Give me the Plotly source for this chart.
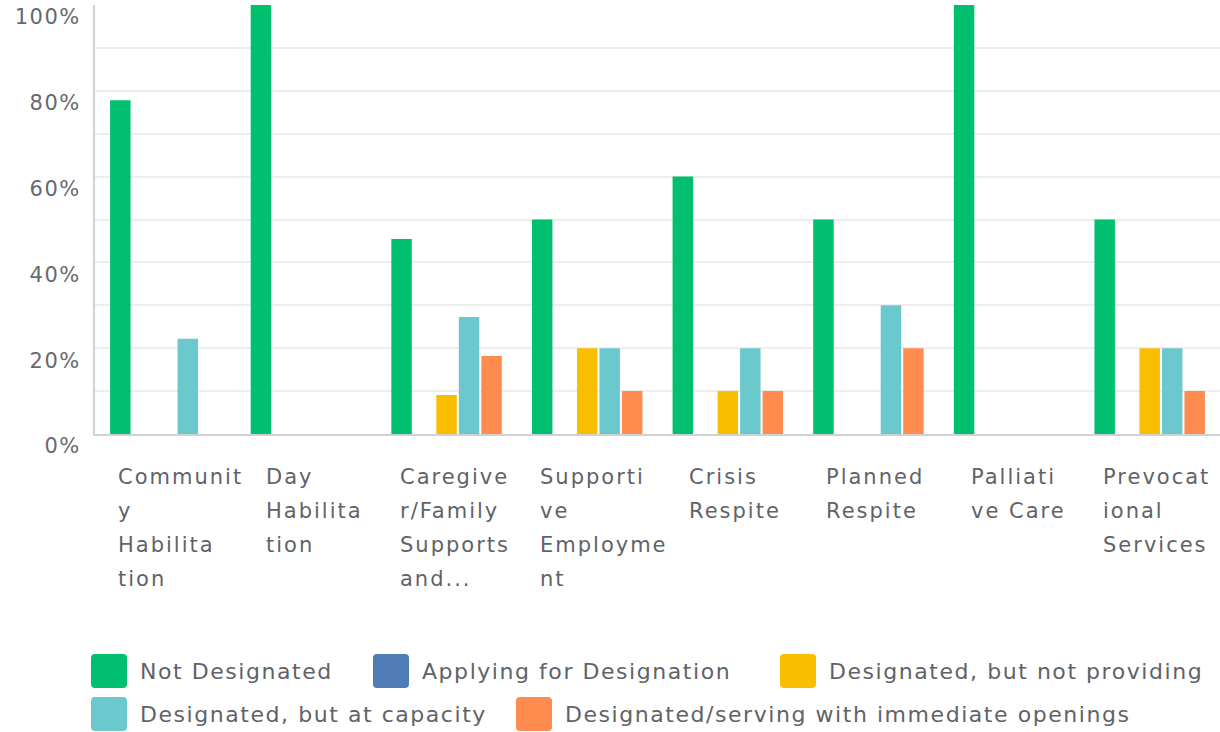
import plotly.graph_objects as go

# ---------------- data ----------------
categories = ["Community Habilitation", "Day Habilitation", "Caregiver/Family Supports and...",
              "Supportive Employment", "Crisis Respite", "Planned Respite",
              "Palliative Care", "Prevocational Services"]
category_lines = [["Communit", "y", "Habilita", "tion"],
                  ["Day", "Habilita", "tion"],
                  ["Caregive", "r/Family", "Supports", "and..."],
                  ["Supporti", "ve", "Employme", "nt"],
                  ["Crisis", "Respite"],
                  ["Planned", "Respite"],
                  ["Palliati", "ve Care"],
                  ["Prevocat", "ional", "Services"]]
series_names = ["Not Designated", "Applying for Designation", "Designated, but not providing",
                "Designated, but at capacity", "Designated/serving with immediate openings"]
not_designated = [77.78, 100, 45.45, 50, 60, 50, 100, 50]
applying = [0, 0, 0, 0, 0, 0, 0, 0]
not_providing = [0, 0, 9.09, 20, 10, 0, 0, 20]
at_capacity = [22.22, 0, 27.27, 20, 20, 30, 0, 20]
immediate_openings = [0, 0, 18.18, 10, 10, 20, 0, 10]
y_tick_vals = [0, 20, 40, 60, 80, 100]
y_tick_text = ["0%", "20%", "40%", "60%", "80%", "100%"]

# ---------------- style ----------------
colors = ["#00BF6F", "#507CB6", "#F9BE00", "#6BC8CD", "#FF8B4F"]
FONT = "DejaVu Sans"
TXT = "#5f6367"
W, H = 1220, 732
ML, MR, MT, MB = 95, 0, 5, 298
PW, PH = W - ML - MR, H - MT - MB
label_dx = [20.5, 28, 22, 21.5, 29.5, 25.5, 30, 22]  # pixel offset from category start


def sp(text, ls):
    return f'<span style="letter-spacing:{ls}px">{text}</span>'


def px_x(px):
    return (px - ML) / PW


def px_y(py):
    return (H - MB - py) / PH


series_values = [not_designated, applying, not_providing, at_capacity, immediate_openings]
x_idx = list(range(len(categories)))

fig = go.Figure()
for name, vals, col in zip(series_names, series_values, colors):
    fig.add_trace(go.Bar(x=x_idx, y=vals, name=name, marker=dict(color=col, line=dict(width=0)),
                         showlegend=False))

annotations = []
# category labels (left-aligned wrapped lines)
for i, lines in enumerate(category_lines):
    for k, line in enumerate(lines):
        annotations.append(dict(x=i - 0.5, xref="x", y=0, yref="paper", xanchor="left", yanchor="middle",
                                xshift=label_dx[i], yshift=-(477 - (H - MB)) - 34 * k,
                                text=sp(line, 2), showarrow=False,
                                font=dict(family=FONT, size=21, color=TXT)))

# custom legend
legend_pos = [(91, 654), (373, 654), (780, 654), (91, 697), (516, 697)]
shapes = []
mw, mh, r = 36, 34, 4
for (lx, ty), name, col in zip(legend_pos, series_names, colors):
    x0, x1 = px_x(lx), px_x(lx + mw)
    y0, y1 = px_y(ty + mh), px_y(ty)
    rx, ry = r / PW, r / PH
    path = (f"M{x0 + rx},{y1} L{x1 - rx},{y1} Q{x1},{y1} {x1},{y1 - ry} "
            f"L{x1},{y0 + ry} Q{x1},{y0} {x1 - rx},{y0} L{x0 + rx},{y0} Q{x0},{y0} {x0},{y0 + ry} "
            f"L{x0},{y1 - ry} Q{x0},{y1} {x0 + rx},{y1} Z")
    shapes.append(dict(type="path", xref="paper", yref="paper", path=path,
                       fillcolor=col, line=dict(width=0), layer="above"))
    annotations.append(dict(x=px_x(lx + 47), y=px_y(ty + mh / 2), xref="paper", yref="paper",
                            xanchor="left", yanchor="middle", text=sp(name, 1.55), showarrow=False,
                            font=dict(family=FONT, size=22, color=TXT)))

fig.update_layout(
    width=W, height=H, autosize=False,
    margin=dict(l=ML, r=MR, t=MT, b=MB),
    paper_bgcolor="white", plot_bgcolor="white",
    barmode="group", bargap=0.2, bargroupgap=0.09,
    font=dict(family=FONT, color=TXT),
    showlegend=False,
    annotations=annotations, shapes=shapes,
)
fig.update_xaxes(range=[-0.5, len(categories) - 0.5], showticklabels=False, showgrid=False,
                 showline=True, linecolor="#cfd1d3", linewidth=2, zeroline=False, ticks="")
fig.update_yaxes(range=[0, 100], tickvals=y_tick_vals, ticktext=[sp(t, 1.5) for t in y_tick_text],
                 tickfont=dict(family=FONT, size=21, color="#666a6e"),
                 showgrid=True, gridcolor="#eeeeee", gridwidth=2,
                 minor=dict(dtick=10, showgrid=True, gridcolor="#eeeeee", gridwidth=2),
                 showline=True, linecolor="#cfd1d3", linewidth=2, zeroline=False, ticks="",
                 ticklabelshift=12, ticklabelstandoff=8, ticklabeloverflow="allow")

fig.write_html("out.html", config={"displayModeBar": False},
               post_script="document.body.style.margin='0';document.body.style.overflow='hidden';")
